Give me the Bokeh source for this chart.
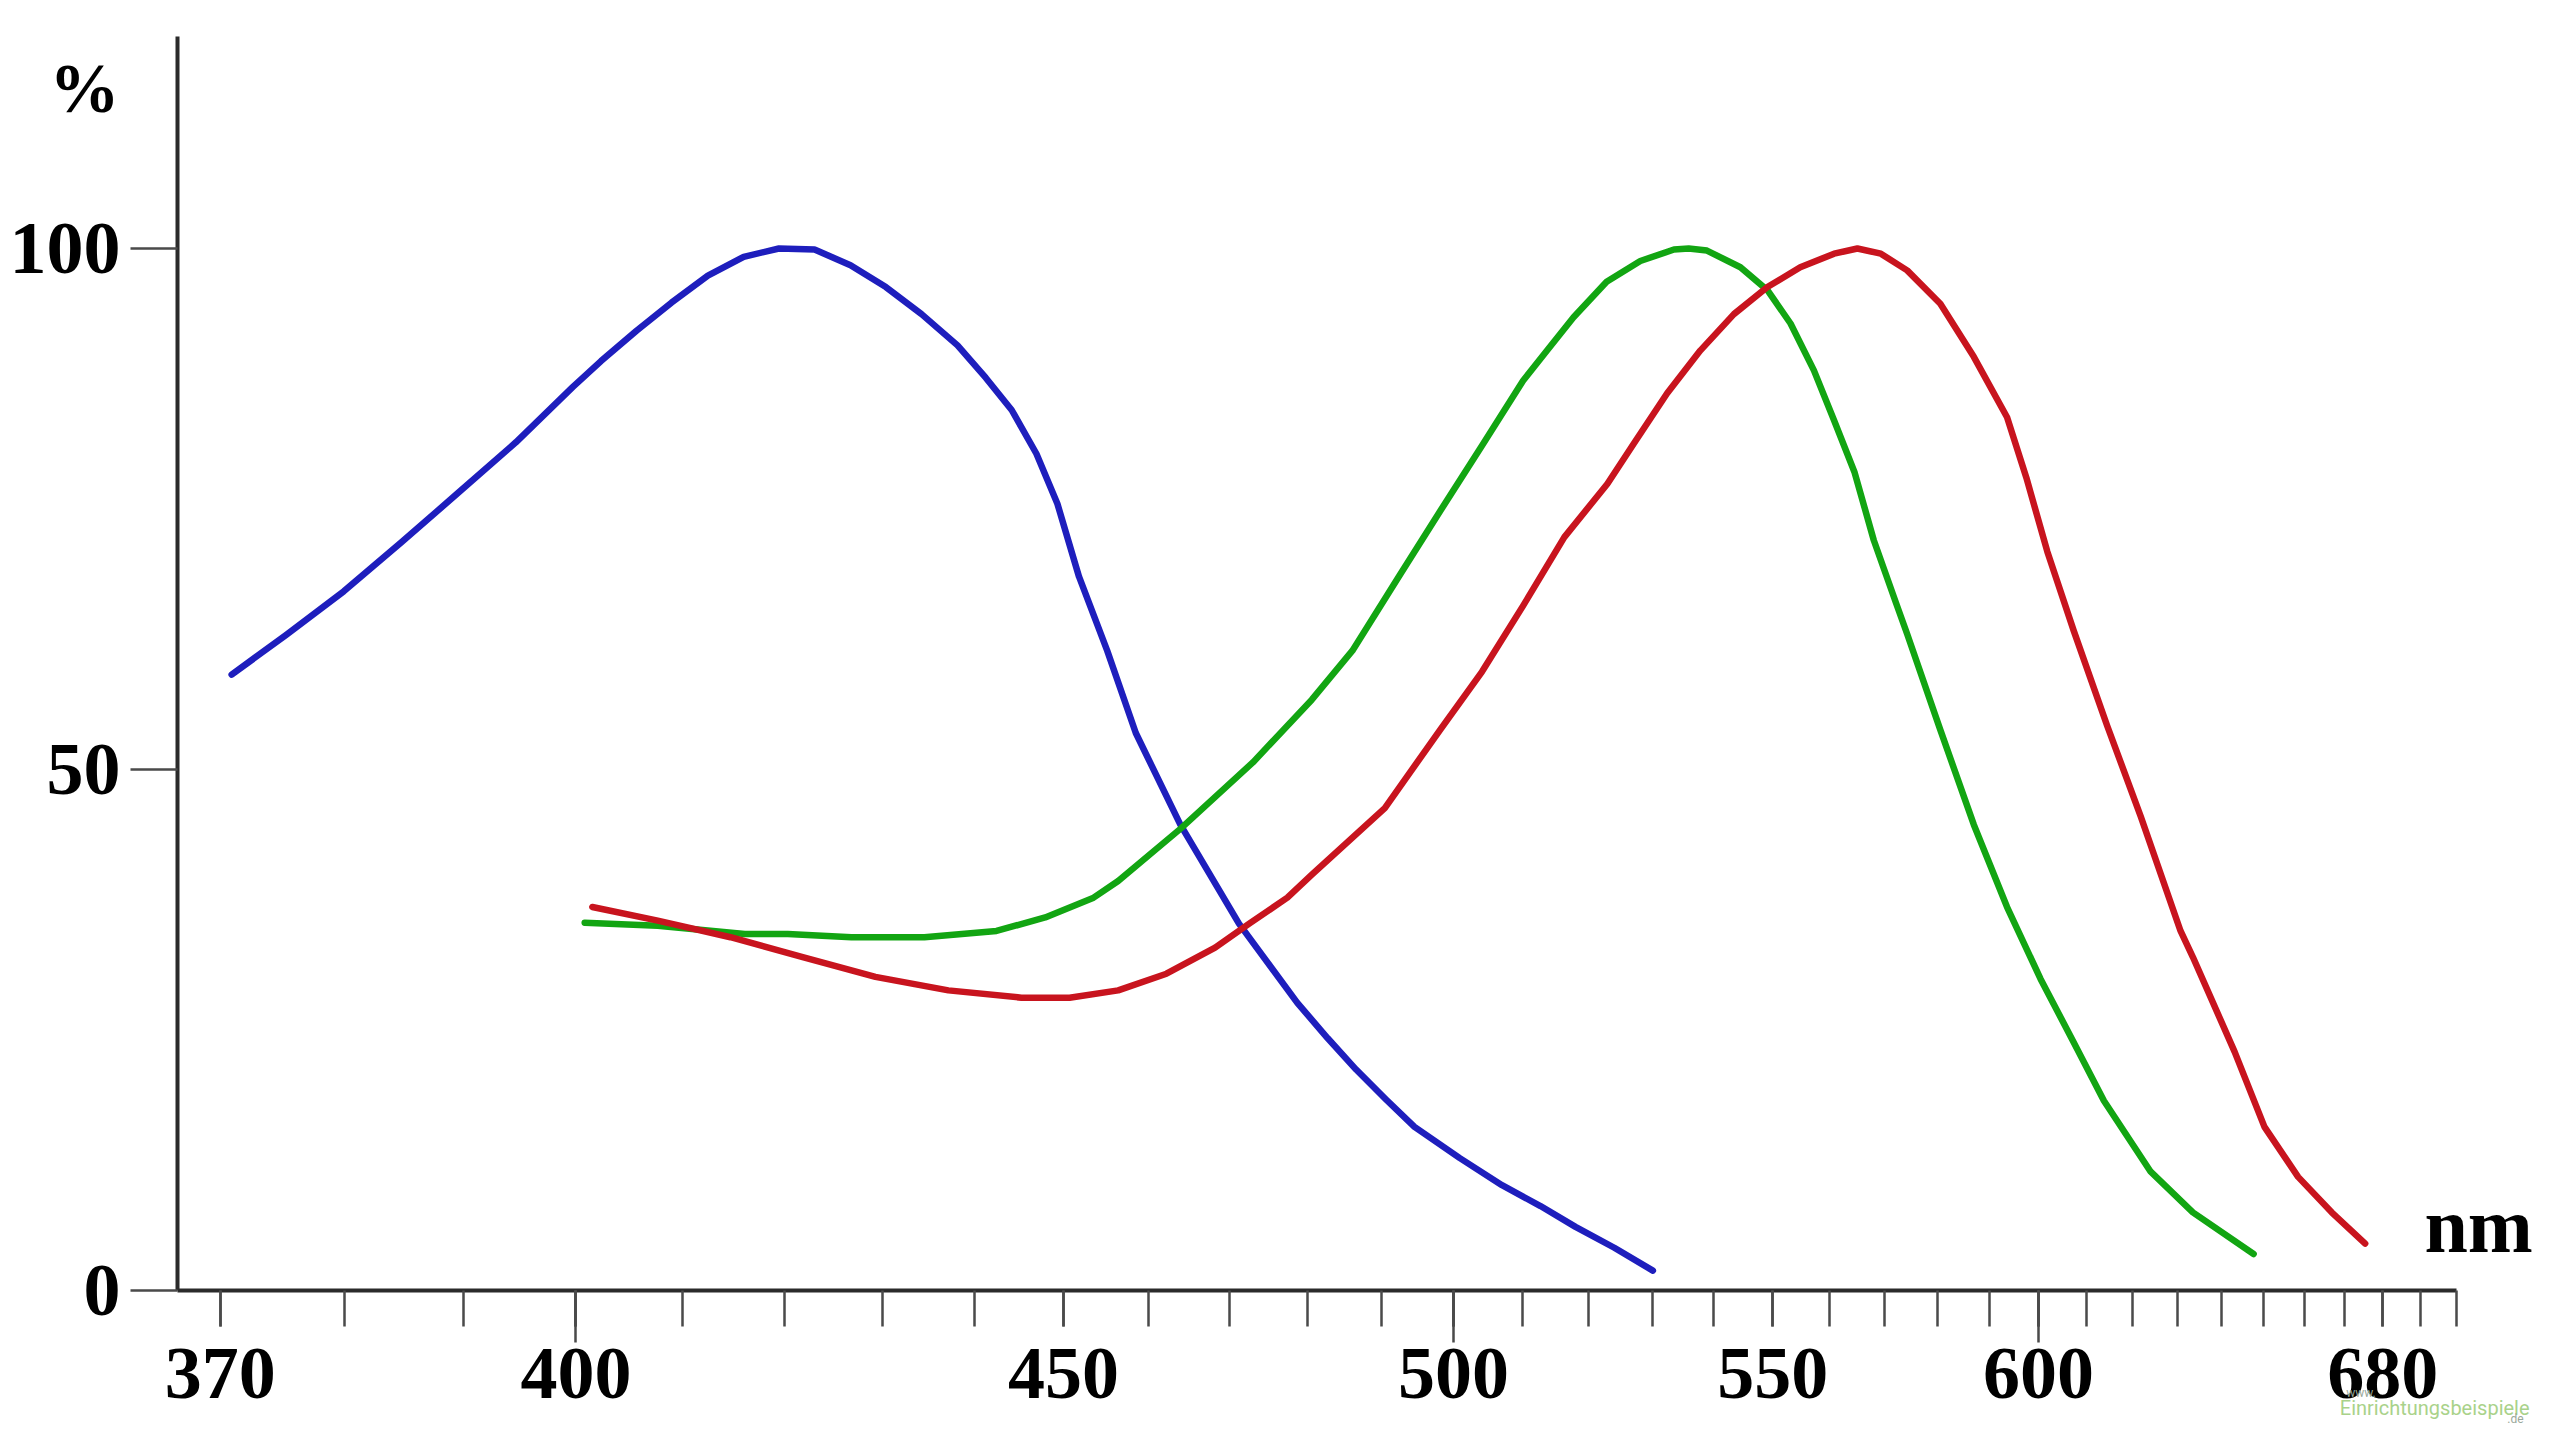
from bokeh.plotting import figure
from bokeh.models import Range1d, FixedTicker, CustomJSTickFormatter, LinearAxis, Label
from bokeh.embed import file_html
from bokeh.resources import INLINE

# ---- data (wavelength in nm, relative sensitivity in %) ----
blue_nm = [370.9, 375.2, 379.9, 384.7, 389.6, 394.6, 399.7, 402.3, 405.6, 408.9,
           412.4, 415.9, 419.4, 423.0, 426.7, 430.4, 434.2, 438.1, 441.2, 444.1,
           446.9, 449.3, 451.8, 455.1, 458.5, 463.9, 471.2, 478.7, 482.7, 486.5,
           490.6, 494.5, 500.9, 507.0, 512.7, 518.0, 524.0, 530.1]
blue_pct = [59.1, 62.9, 67.1, 71.8, 76.6, 81.4, 86.7, 89.2, 92.1, 94.8,
            97.4, 99.2, 100.0, 99.9, 98.4, 96.3, 93.7, 90.7, 87.6, 84.5,
            80.3, 75.5, 68.5, 61.4, 53.5, 44.7, 35.2, 27.6, 24.2, 21.2,
            18.3, 15.7, 12.7, 10.1, 8.1, 6.1, 4.1, 1.9]

green_nm = [400.8, 407.6, 416.0, 420.3, 426.8, 434.5, 442.4, 447.9, 453.5, 456.4,
            463.9, 473.0, 480.6, 486.0, 492.4, 498.2, 504.1, 510.1, 513.8, 517.7,
            522.8, 528.1, 533.5, 535.9, 538.9, 544.5, 549.1, 553.1, 557.2, 560.8,
            564.5, 568.0, 572.1, 574.2, 580.5, 587.0, 593.6, 600.4, 607.3, 613.7,
            623.9, 633.4, 647.6]
green_pct = [35.3, 35.0, 34.2, 34.2, 33.9, 33.9, 34.5, 35.8, 37.7, 39.3,
             44.3, 50.7, 56.7, 61.4, 68.6, 74.9, 81.1, 87.3, 90.3, 93.4,
             96.8, 98.8, 99.9, 100.0, 99.8, 98.2, 96.0, 92.8, 88.3, 83.5,
             78.5, 72.0, 66.0, 63.0, 53.8, 44.7, 36.8, 29.9, 23.8, 18.2,
             11.4, 7.5, 3.5]

red_nm = [401.5, 407.6, 414.6, 421.8, 429.3, 437.1, 445.2, 450.7, 456.4, 462.2,
          468.2, 472.5, 477.4, 480.6, 490.4, 498.2, 504.1, 510.1, 516.3, 522.9,
          527.1, 532.4, 537.8, 543.4, 549.1, 554.8, 560.8, 565.0, 569.3, 574.2,
          580.5, 587.0, 593.6, 597.5, 601.8, 607.3, 614.4, 621.7, 630.6, 633.4,
          643.1, 650.2, 658.4, 666.8, 675.4]
red_pct = [36.8, 35.5, 33.9, 32.0, 30.1, 28.8, 28.1, 28.1, 28.8, 30.4,
           32.9, 35.2, 37.7, 39.9, 46.3, 53.9, 59.4, 65.7, 72.3, 77.4,
           81.3, 86.1, 90.2, 93.7, 96.3, 98.2, 99.5, 100.0, 99.5, 97.9,
           94.7, 89.6, 83.8, 78.0, 70.9, 63.3, 54.2, 45.5, 34.5, 32.0,
           22.9, 15.7, 10.9, 7.5, 4.5]

x_tick_labels_nm = [370, 400, 450, 500, 550, 600, 680]
x_long_ticks_nm = [400, 500, 600]
x_minor_ticks_nm = list(range(370, 701, 10))
x_axis_span_nm = (366.7, 700.0)
y_ticks = [0, 50, 100]
y_axis_top = 120.3


def wn(nm_list):
    # the wavelength axis of the original is linear in 1/lambda
    return [1e7 / v for v in nm_list]


SERIF = "Liberation Serif"
AXIS_COL = "#2b2b2b"
TICK_COL = "#4a4a4a"

# the frame covers the whole canvas; the axes are drawn at fixed data locations
p = figure(frame_width=2544, frame_height=1425,
           x_range=Range1d(28278.4, 13784.4), y_range=Range1d(-12.96, 123.8),
           x_axis_type=None, y_axis_type=None,
           output_backend="svg", toolbar_location=None,
           min_border=0, min_border_left=0, min_border_right=0,
           min_border_top=0, min_border_bottom=0)
p.outline_line_color = None
p.background_fill_color = "white"
p.border_fill_color = "white"

x_lo, x_hi = sorted(wn(x_axis_span_nm))

# ---- bottom axis ----
xa = LinearAxis(ticker=FixedTicker(ticks=wn(x_tick_labels_nm), minor_ticks=wn(x_minor_ticks_nm)),
                formatter=CustomJSTickFormatter(code="return Math.round(1e7 / tick).toString();"),
                fixed_location=0, bounds=(x_lo, x_hi))
xa.axis_line_color = AXIS_COL
xa.axis_line_width = 4
xa.major_tick_out = 36
xa.major_tick_in = 0
xa.minor_tick_out = 36
xa.minor_tick_in = 0
xa.major_tick_line_color = TICK_COL
xa.minor_tick_line_color = TICK_COL
xa.major_tick_line_width = 2.5
xa.minor_tick_line_width = 2.5
xa.major_label_text_font = SERIF
xa.major_label_text_font_style = "bold"
xa.major_label_text_font_size = "74px"
xa.major_label_text_color = "black"
xa.major_label_standoff = 23
p.add_layout(xa, "below")

# longer ticks at 400 / 500 / 600
xa2 = LinearAxis(ticker=FixedTicker(ticks=wn(x_long_ticks_nm), minor_ticks=[]),
                 formatter=CustomJSTickFormatter(code="return '';"),
                 fixed_location=0, bounds=(x_lo, x_hi))
xa2.axis_line_color = None
xa2.major_tick_out = 52
xa2.major_tick_in = 0
xa2.major_tick_line_color = TICK_COL
xa2.major_tick_line_width = 2.5
xa2.minor_tick_line_color = None
xa2.major_label_text_font_size = "0px"
p.add_layout(xa2, "below")

# ---- left axis ----
ya = LinearAxis(ticker=FixedTicker(ticks=y_ticks, minor_ticks=[]),
                fixed_location=x_hi, bounds=(0, y_axis_top))
ya.axis_line_color = AXIS_COL
ya.axis_line_width = 4
ya.major_tick_out = 47
ya.major_tick_in = 0
ya.major_tick_line_color = TICK_COL
ya.major_tick_line_width = 2.5
ya.minor_tick_line_color = None
ya.major_label_text_font = SERIF
ya.major_label_text_font_style = "bold"
ya.major_label_text_font_size = "74px"
ya.major_label_text_color = "black"
ya.major_label_standoff = 10
p.add_layout(ya, "left")

# ---- curves ----
for xs, ys, col in [(blue_nm, blue_pct, "#1e1ebd"),
                    (green_nm, green_pct, "#12a512"),
                    (red_nm, red_pct, "#c8141e")]:
    p.line(wn(xs), ys, line_color=col, line_width=6.5, line_join="round", line_cap="round")

# ---- unit labels ----
p.add_layout(Label(x=27800, y=115.4, text="%", text_font=SERIF, text_font_style="bold",
                   text_font_size="70px", text_color="black",
                   text_align="center", text_baseline="middle"))
p.add_layout(Label(x=14160, y=6.2, text="nm", text_font=SERIF, text_font_style="bold",
                   text_font_size="78px", text_color="black",
                   text_align="center", text_baseline="middle"))

# ---- watermark ----
p.add_layout(Label(x=14410, y=-11.3, text="Einrichtungsbeispiele", text_font="Roboto",
                   text_font_size="20px", text_color="#a9d28a",
                   text_align="center", text_baseline="middle"))
p.add_layout(Label(x=14830, y=-9.8, text="www.", text_font="Roboto",
                   text_font_size="12px", text_color="#9aa89a",
                   text_align="center", text_baseline="middle"))
p.add_layout(Label(x=13950, y=-12.3, text=".de", text_font="Roboto",
                   text_font_size="12px", text_color="#9aa89a",
                   text_align="center", text_baseline="middle"))

open("out.html", "w").write(file_html(p, INLINE))
